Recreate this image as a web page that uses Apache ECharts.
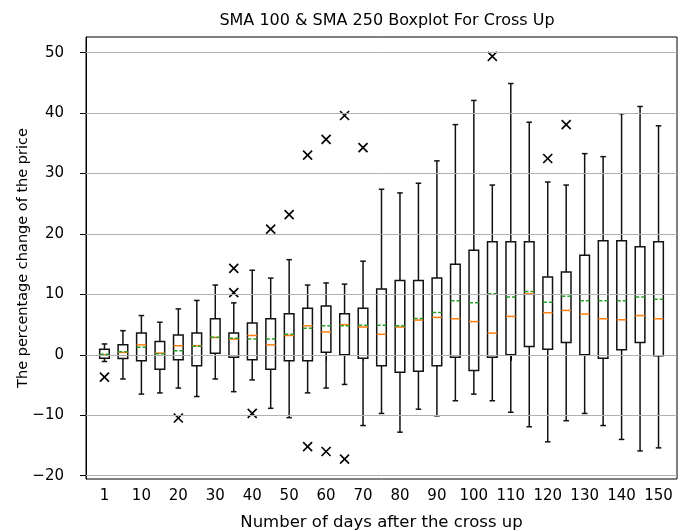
<!DOCTYPE html>
<html>
<head>
<meta charset="utf-8">
<script src="https://cdn.jsdelivr.net/npm/echarts@6/dist/echarts.min.js"></script>
<style>
  html, body { margin: 0; padding: 0; background: #fff; }
  #chart { width: 685px; height: 531px; }
</style>
</head>
<body>
<div id="chart"></div>
<script>
var days = [1, 5, 10, 15, 20, 25, 30, 35, 40, 45, 50, 55, 60, 65, 70, 75, 80, 85, 90, 95, 100, 105, 110, 115, 120, 125, 130, 135, 140, 145, 150]
var whiskerLow = [-1.1, -4.0, -6.5, -6.3, -5.5, -6.9, -4.0, -6.1, -4.15, -8.85, -10.4, -6.3, -5.5, -4.9, -11.7, -9.7, -12.8, -9.0, -10.1, -7.6, -6.5, -7.6, -9.5, -11.9, -14.4, -10.9, -9.7, -11.7, -14.0, -15.9, -15.4]
var q1 = [-0.55, -0.6, -1.0, -2.4, -0.83, -1.8, 0.27, -0.39, -0.83, -2.4, -1.0, -1.0, 0.44, 0, -0.55, -1.8, -2.9, -2.7, -1.8, -0.39, -2.6, -0.39, 0, 1.38, 0.94, 2.04, 0, -0.55, 0.83, 2.04, -0.17]
var median = [0, 0.4, 1.65, 0.28, 1.5, 1.5, 2.87, 2.6, 3.2, 1.65, 3.2, 4.8, 3.8, 5.0, 4.6, 3.4, 4.6, 5.75, 6.2, 5.97, 5.5, 3.6, 6.36, 10.1, 6.97, 7.35, 6.75, 5.97, 5.8, 6.5, 5.97]
var q3 = [0.94, 1.65, 3.6, 2.2, 3.3, 3.6, 5.97, 3.6, 5.25, 5.97, 6.8, 7.7, 8.1, 6.8, 7.7, 10.9, 12.3, 12.3, 12.7, 15.0, 17.3, 18.7, 18.7, 18.7, 12.9, 13.7, 16.5, 18.9, 18.9, 17.9, 18.7]
var whiskerHigh = [1.8, 4.0, 6.5, 5.4, 7.6, 9.0, 11.55, 8.6, 14.0, 12.7, 15.75, 11.55, 11.9, 11.7, 15.5, 27.4, 26.8, 28.4, 32.1, 38.1, 42.1, 28.1, 44.9, 38.5, 28.6, 28.1, 33.3, 32.8, 39.9, 41.1, 37.9]
var mean = [0.1, 0.5, 1.27, 0.17, 0.66, 1.4, 2.9, 2.75, 2.6, 2.6, 3.4, 4.4, 4.8, 4.8, 4.9, 4.9, 4.8, 6.0, 7.0, 8.95, 8.6, 10.1, 9.55, 10.5, 8.7, 9.7, 8.95, 8.95, 8.95, 9.55, 9.2]
// [day, value]
var outliers = [
  [1, -3.7], [20, -10.45], [35, 14.3], [35, 10.3], [40, -9.7], [45, 20.8],
  [50, 23.2], [55, 33.05], [55, -15.2], [60, 35.65], [60, -16.0], [65, 39.6],
  [65, -17.25], [70, 34.3], [105, 49.4], [120, 32.5], [125, 38.1]
]
var yTicks = [-20, -10, 0, 10, 20, 30, 40, 50]

// empty slot on each side, like the padding matplotlib leaves
var categories = [''].concat(days.map(String)).concat([''])

var boxData = days.map(function (d, i) {
  return [i + 1, whiskerLow[i], q1[i], median[i], q3[i], whiskerHigh[i], mean[i]]
})
var outlierData = outliers.map(function (o) {
  return [days.indexOf(o[0]) + 1, o[1]]
})

var font = 'DejaVu Sans'
var black = '#000'

function renderBox(params, api) {
  var i = api.value(0)
  var band = api.size([1, 0])[0]
  var half = band * 0.26
  var cap = band * 0.15
  var x = api.coord([i, 0])[0]
  var y = function (k) { return api.coord([i, api.value(k)])[1] }
  var yLow = y(1), yQ1 = y(2), yMed = y(3), yQ3 = y(4), yHigh = y(5), yMean = y(6)
  var line = { stroke: '#111', lineWidth: 1.5, fill: null }
  return {
    type: 'group',
    children: [
      { type: 'line', shape: { x1: x, y1: yLow, x2: x, y2: yQ1 }, style: line },
      { type: 'line', shape: { x1: x, y1: yQ3, x2: x, y2: yHigh }, style: line },
      { type: 'line', shape: { x1: x - cap, y1: yLow, x2: x + cap, y2: yLow }, style: line },
      { type: 'line', shape: { x1: x - cap, y1: yHigh, x2: x + cap, y2: yHigh }, style: line },
      { type: 'rect', shape: { x: x - half, y: yQ3, width: half * 2, height: yQ1 - yQ3 }, style: { stroke: '#111', lineWidth: 1.5, fill: '#fff' } },
      { type: 'line', shape: { x1: x - half, y1: yMed, x2: x + half, y2: yMed }, style: { stroke: '#ff7f0e', lineWidth: 1.5 } },
      { type: 'line', shape: { x1: x - half, y1: yMean, x2: x + half, y2: yMean }, style: { stroke: '#2ca02c', lineWidth: 1.5, lineDash: [4, 2] } }
    ]
  }
}

function renderCross(params, api) {
  var p = api.coord([api.value(0), api.value(1)])
  var s = 4.5
  var st = { stroke: black, lineWidth: 1.6 }
  return {
    type: 'group',
    children: [
      { type: 'line', shape: { x1: p[0] - s, y1: p[1] - s, x2: p[0] + s, y2: p[1] + s }, style: st },
      { type: 'line', shape: { x1: p[0] - s, y1: p[1] + s, x2: p[0] + s, y2: p[1] - s }, style: st }
    ]
  }
}

var chart = echarts.init(document.getElementById('chart'))
var options = {
  animation: false,
  backgroundColor: '#fff',
  textStyle: { fontFamily: font },
  title: {
    text: 'SMA 100 & SMA 250 Boxplot For Cross Up',
    left: 382,
    top: 8,
    textAlign: 'center',
    textStyle: { fontFamily: font, fontSize: 16, fontWeight: 'normal', color: black }
  },
  grid: {
    left: 86,
    right: 8,
    top: 37,
    bottom: 52,
    show: true,
    borderColor: black,
    borderWidth: 1,
    outerBoundsMode: 'none'
  },
  xAxis: {
    type: 'category',
    data: categories,
    boundaryGap: false,
    name: 'Number of days after the cross up',
    nameLocation: 'middle',
    nameGap: 35,
    nameMoveOverlap: false,
    nameTextStyle: { fontFamily: font, fontSize: 16.5, color: black },
    axisLine: { lineStyle: { color: black, width: 1 } },
    axisTick: {
      alignWithLabel: true,
      length: 6,
      lineStyle: { color: black },
      interval: function (idx) { return idx % 2 === 1 }
    },
    axisLabel: {
      fontFamily: font,
      fontSize: 15,
      color: black,
      margin: 10,
      interval: function (idx) { return idx % 2 === 1 },
      formatter: function (v, idx) { return idx % 2 === 1 ? v : '' }
    },
    splitLine: { show: false }
  },
  yAxis: {
    type: 'value',
    min: -20.55,
    max: 52.6,
    name: 'The percentage change of the price',
    nameLocation: 'middle',
    nameGap: 55,
    nameMoveOverlap: false,
    nameTextStyle: { fontFamily: font, fontSize: 14.5, color: black },
    axisLine: { show: true, lineStyle: { color: black, width: 1 } },
    axisTick: { show: true, length: 6, lineStyle: { color: black }, customValues: yTicks },
    axisLabel: {
      fontFamily: font,
      fontSize: 15,
      color: black,
      margin: 22,
      customValues: yTicks,
      formatter: function (v) { return v < 0 ? '\u2212' + (-v) : String(v) }
    },
    splitLine: { show: false }
  },
  series: [
    {
      // horizontal grid lines at the tick values
      type: 'line',
      data: [],
      markLine: {
        silent: true,
        symbol: ['none', 'none'],
        label: { show: false },
        lineStyle: { color: '#b0b0b0', width: 1, type: 'solid' },
        data: yTicks.map(function (t) { return { yAxis: t } })
      },
      z: 1
    },
    {
      type: 'custom',
      renderItem: renderBox,
      encode: { x: 0, y: [1, 2, 3, 4, 5, 6] },
      data: boxData,
      z: 2
    },
    {
      type: 'custom',
      renderItem: renderCross,
      encode: { x: 0, y: 1 },
      data: outlierData,
      z: 3
    }
  ]
}
chart.setOption(options)
</script>
</body>
</html>
